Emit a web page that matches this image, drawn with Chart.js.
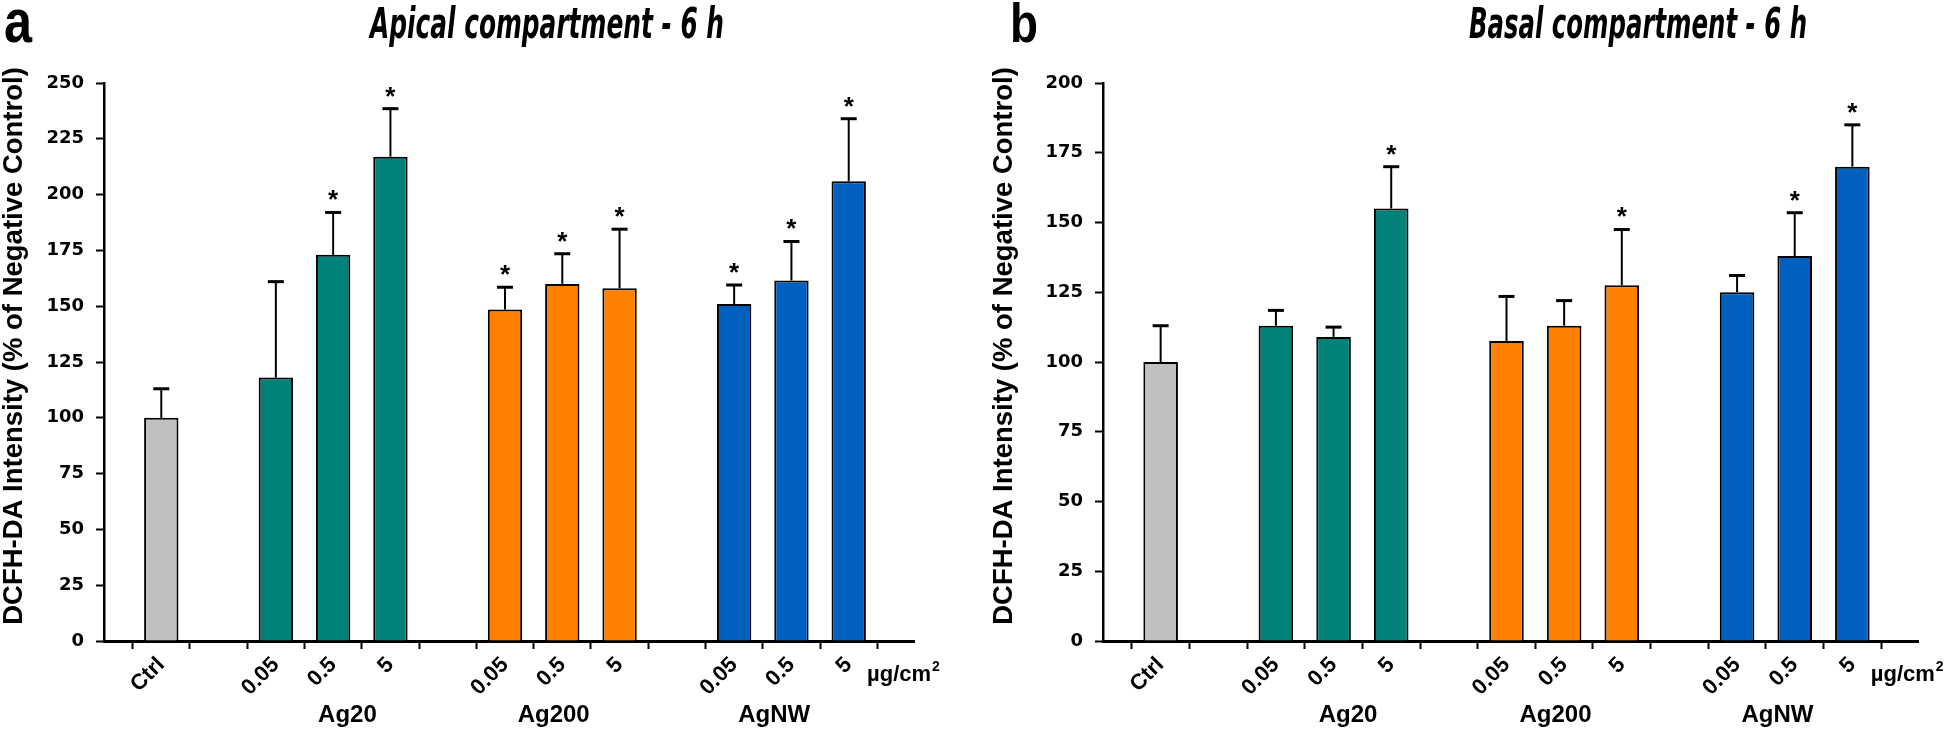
<!DOCTYPE html>
<html>
<head>
<meta charset="utf-8">
<script src="https://cdn.jsdelivr.net/npm/chart.js@4.4.1/dist/chart.umd.min.js"></script>
<style>
    html, body { margin: 0; padding: 0; background: #fff; }
    #wrap { position: relative; width: 1946px; height: 729px; overflow: hidden; }
    .panel { position: absolute; top: 0; height: 729px; }
    #p-a { left: 0; width: 990px; }
    #p-b { left: 990px; width: 956px; }
</style>
</head>
<body>
<div id="wrap">
    <div class="panel" id="p-a"><canvas id="chart-a"></canvas></div>
    <div class="panel" id="p-b"><canvas id="chart-b"></canvas></div>
</div>
<script>
// ── Data ──

const doseLabels = ['', 'Ctrl', '', '0.05', '0.5', '5', '', '0.05', '0.5', '5', '', '0.05', '0.5', '5', ''];
const groupNames = ['Ag20', 'Ag200', 'AgNW'];
const groupAt = [4.25, 7.85, 11.7];   // category index under which each group name sits

const apicalMean = [null, 100, null, 118, 173, 217, null, 148.5, 160, 158, null, 151, 161.5, 206, null];
const apicalSd   = [null, 13, null, 43, 19, 21.5, null, 10, 13.5, 26.5, null, 8.5, 17.5, 28, null];
const apicalSig  = [0, 0, 0, 0, 1, 1, 0, 1, 1, 1, 0, 1, 1, 1, 0];

const basalMean = [null, 100, null, 113, 109, 155, null, 107.5, 113, 127.5, null, 125, 138, 170, null];
const basalSd   = [null, 13, null, 5.5, 3.5, 15, null, 16, 9, 20, null, 6, 15.5, 15, null];
const basalSig  = [0, 0, 0, 0, 0, 1, 0, 0, 0, 1, 0, 0, 1, 1, 0];

const GRAY = '#c0c0c0', TEAL = '#00827a', ORANGE = '#ff8000', BLUE = '#0060c0';
const barColors = [null, GRAY, null, TEAL, TEAL, TEAL, null, ORANGE, ORANGE, ORANGE, null, BLUE, BLUE, BLUE, null];

const yTitle = 'DCFH-DA Intensity (% of Negative Control)';

const SANS = '"Liberation Sans", Arial, sans-serif';
const WIDE = '"DejaVu Sans", Verdana, sans-serif';

// draw text squeezed horizontally to a given width
function squeezed(ctx, text, cx, y, width) {
    const w = ctx.measureText(text).width;
    ctx.save();
    ctx.translate(cx, y);
    ctx.scale(width / w, 1);
    ctx.textAlign = 'center';
    ctx.fillText(text, 0, 0);
    ctx.restore();
}

// ── Error bars, stars and extra labels ──

const decor = {
    id: 'decor',
    afterDatasetsDraw(chart, args, o) {
        const { ctx } = chart;
        const x = chart.scales.x, y = chart.scales.y;
        ctx.save();
        ctx.strokeStyle = '#000';
        ctx.fillStyle = '#000';
        o.mean.forEach((m, i) => {
            if (m == null) return;
            const px = x.getPixelForValue(i);
            const top = y.getPixelForValue(m);
            const cap = y.getPixelForValue(m + o.sd[i]);
            ctx.lineWidth = 2;
            ctx.beginPath(); ctx.moveTo(px, top); ctx.lineTo(px, cap); ctx.stroke();
            ctx.lineWidth = 3;
            ctx.beginPath(); ctx.moveTo(px - 8, cap); ctx.lineTo(px + 8, cap); ctx.stroke();
            if (o.sig[i]) {
                ctx.font = 'bold 26px ' + SANS;
                ctx.textAlign = 'center';
                ctx.textBaseline = 'alphabetic';
                ctx.fillText('*', px, cap - 4);
            }
        });
        ctx.restore();
    },
    afterDraw(chart, args, o) {
        const { ctx, chartArea } = chart;
        const x = chart.scales.x;
        const slot = x.getPixelForValue(1) - x.getPixelForValue(0);
        ctx.save();
        ctx.fillStyle = '#000';
        ctx.strokeStyle = '#000';

        // axis line runs a little past the last tick
        ctx.lineWidth = 3;
        ctx.beginPath();
        ctx.moveTo(chartArea.right - 1, chartArea.bottom + 0.5);
        ctx.lineTo(chartArea.right + 9, chartArea.bottom + 0.5);
        ctx.stroke();

        // panel letter + title
        ctx.textBaseline = 'alphabetic';
        ctx.font = 'bold ' + o.letterSize + 'px ' + SANS;
        squeezed(ctx, o.letter, o.letterX, 42, o.letterW);
        ctx.font = 'italic bold 43px ' + WIDE;
        squeezed(ctx, o.title, o.titleX, 38, o.titleW);

        // y axis title
        ctx.save();
        ctx.translate(14, 346);
        ctx.rotate(-Math.PI / 2);
        ctx.font = 'bold 27.5px ' + SANS;
        ctx.textAlign = 'center';
        ctx.textBaseline = 'middle';
        ctx.fillText(yTitle, 0, 0);
        ctx.restore();

        // group names
        ctx.textAlign = 'center';
        ctx.font = 'bold 24px ' + SANS;
        groupNames.forEach((g, i) => {
            ctx.fillText(g, x.getPixelForValue(0) + groupAt[i] * slot, chartArea.bottom + 81);
        });

        // unit
        ctx.textAlign = 'left';
        const ux = x.getPixelForValue(13) + slot * 0.32;
        ctx.font = 'bold 22px ' + SANS;
        ctx.fillText('\u00b5g/cm', ux, chartArea.bottom + 40);
        const w = ctx.measureText('\u00b5g/cm').width;
        ctx.font = 'bold 14px ' + SANS;
        ctx.fillText('2', ux + w + 1, chartArea.bottom + 30);
        ctx.restore();
    }
};

function makeChart(id, mean, sd, sig, yMax, padRight, yWidth, head) {
    return new Chart(document.getElementById(id), {
        type: 'bar',
        data: {
            labels: doseLabels,
            datasets: [{
                data: mean,
                backgroundColor: barColors,
                borderColor: '#000',
                borderWidth: 2,
                categoryPercentage: 1,
                barPercentage: 0.6,
            }]
        },
        options: {
            responsive: true,
            maintainAspectRatio: false,
            animation: false,
            layout: { padding: { top: 83, right: padRight, left: 0, bottom: 0 } },
            plugins: {
                legend: { display: false },
                tooltip: { enabled: false },
                decor: Object.assign({ mean, sd, sig }, head),
            },
            scales: {
                x: {
                    offset: false,
                    grid: { drawOnChartArea: false, drawTicks: true, tickLength: 8, tickWidth: 2, tickColor: '#000' },
                    border: { color: '#000', width: 3 },
                    ticks: {
                        autoSkip: false, maxRotation: 45, minRotation: 45, padding: 3,
                        color: '#000', font: { family: SANS, weight: 'bold', size: 22 }
                    },
                    afterFit: s => { s.height = 88; }
                },
                y: {
                    min: 0,
                    max: yMax,
                    ticks: { stepSize: 25, padding: 12, color: '#000', font: { family: WIDE, weight: 'bold', size: 18 } },
                    grid: { drawOnChartArea: false, tickLength: 8, tickWidth: 2, tickColor: '#000' },
                    border: { color: '#000', width: 2.5 },
                    afterFit: s => { s.width = yWidth; }
                }
            }
        },
        plugins: [decor]
    });
}

// ── Init ──
makeChart('chart-a', apicalMean, apicalSd, apicalSig, 250, 84, 104, {
    letter: 'a', letterX: 18, letterSize: 62, letterW: 28,
    title: 'Apical compartment - 6 h', titleX: 547, titleW: 354
});
makeChart('chart-b', basalMean, basalSd, basalSig, 200, 36, 113, {
    letter: 'b', letterX: 34, letterSize: 56, letterW: 28,
    title: 'Basal compartment - 6 h', titleX: 648, titleW: 338
});
</script>
</body>
</html>
